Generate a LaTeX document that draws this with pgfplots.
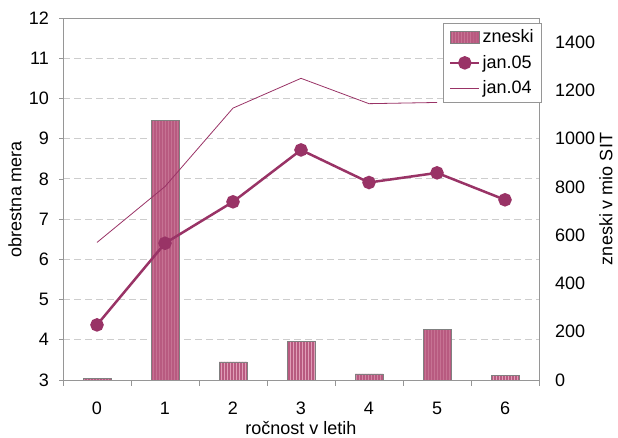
\documentclass[border=0pt]{standalone}
\usepackage{fontspec}
\setmainfont{Liberation Sans}
\usepackage{pgfplots}
\pgfplotsset{compat=1.18}
\usetikzlibrary{patterns}
\definecolor{plum}{RGB}{153,51,102}
\definecolor{barfill}{RGB}{184,90,128}
\definecolor{barstripe}{RGB}{224,158,184}
\definecolor{framegray}{RGB}{150,150,150}
\definecolor{gridgray}{RGB}{205,205,205}
\newcommand{\fs}{\fontsize{18bp}{21bp}\selectfont}
\begin{document}
\fs
\begin{tikzpicture}[x=1bp,y=1bp]
\useasboundingbox (0,0) rectangle (618,438);
% bars on the right axis
\begin{axis}[
  at={(63bp,58bp)}, anchor=south west,
  scale only axis, width=476bp, height=362bp,
  xmin=-0.5, xmax=6.5, ymin=0, ymax=1500,
  /pgf/number format/assume math mode=true,
  /pgf/number format/1000 sep={},
  axis line style={framegray},
  xtick=\empty,
  ytick={0,200,...,1400},
  ytick pos=right, yticklabel pos=right,
  major tick length=0pt,
  yticklabel style={font=\fs, xshift=10bp},
  ylabel={zneski v mio SIT},
  ylabel style={font=\fs, yshift=8bp},
  extra y ticks={166.667,333.333,500,666.667,833.333,1000,1166.667,1333.333},
  extra y tick labels={},
  extra y tick style={grid=major, major grid style={gridgray, dash pattern=on 7bp off 4bp, line width=0.8bp}},
]
\addplot[ybar, bar width=28bp, fill=barfill, draw=gray, line width=0.6bp,
  postaction={pattern=vertical lines, pattern color=barstripe}]
  coordinates {(0,6) (1,1076) (2,75) (3,161) (4,25) (5,209) (6,18)};
\end{axis}
% lines on the left axis
\begin{axis}[
  at={(63bp,58bp)}, anchor=south west,
  scale only axis, width=476bp, height=362bp,
  xmin=-0.5, xmax=6.5, ymin=3, ymax=12,
  /pgf/number format/assume math mode=true,
  axis x line*=bottom, axis y line*=left,
  axis line style={framegray, -},
  xtick={0,...,6},
  minor xtick={-0.5,0.5,...,6.5},
  ytick={3,...,12},
  tick align=outside,
  tick style={framegray, line width=0.6bp},
  major tick length=4bp,
  major x tick style={draw=none},
  minor tick length=6bp,
  ticklabel style={font=\fs},
  xticklabel style={yshift=-12bp},
  yticklabel style={xshift=-4bp},
  xlabel={ročnost v letih},
  ylabel={obrestna mera},
  label style={font=\fs},
  xlabel style={yshift=6bp},
  ylabel style={yshift=-5bp},
  legend style={at={(0.798,0.986)}, anchor=north west, draw=framegray, fill=white,
    font=\fs, row sep=6bp, inner xsep=6bp, inner ysep=4bp},
  legend cell align=left,
  legend image code/.code={\draw[mark repeat=2, mark phase=2] plot coordinates {(0bp,0bp) (14.5bp,0bp) (29bp,0bp)};},
]
\addlegendimage{legend image code/.code={\draw[fill=barfill, draw=gray, line width=0.6bp, postaction={pattern=vertical lines, pattern color=barstripe}] (0bp,-6bp) rectangle (29bp,6bp);}}
\addlegendentry{zneski}
\addplot[plum, line width=2.5bp, mark=*, mark size=5.5bp, mark options={fill=plum, draw=plum}]
  coordinates {(0,4.37) (1,6.40) (2,7.43) (3,8.72) (4,7.91) (5,8.15) (6,7.48)};
\addlegendentry{jan.05}
\addplot[plum, line width=0.8bp, mark=none]
  coordinates {(0,6.42) (1,7.81) (2,9.76) (3,10.50) (4,9.87) (5,9.90)};
\addlegendentry{jan.04}
\end{axis}
\end{tikzpicture}
\end{document}
